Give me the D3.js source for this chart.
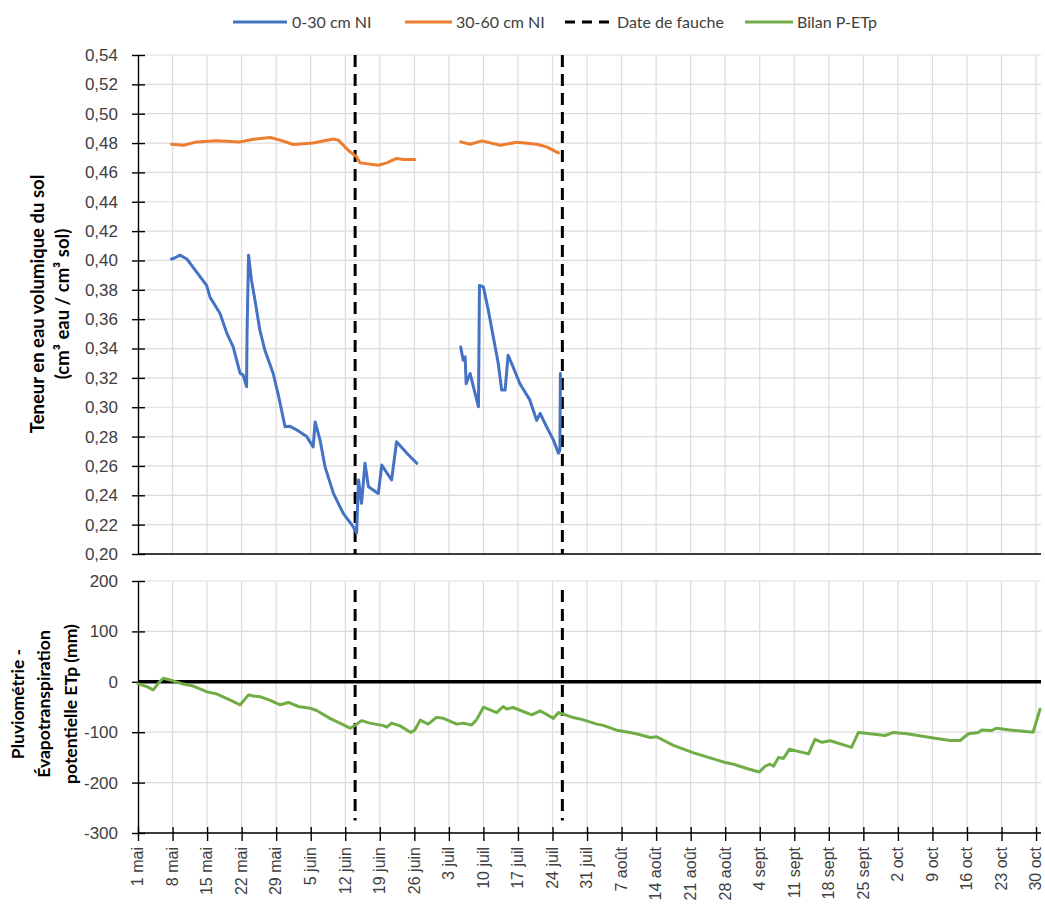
<!DOCTYPE html>
<html>
<head>
<meta charset="utf-8">
<script src="https://cdn.jsdelivr.net/npm/d3@7"></script>
<style>
  body { margin: 0; background: #fff; }
  svg { display: block; font-family: Lato, "Open Sans", sans-serif; }
</style>
</head>
<body>
<svg id="chart" width="1045" height="909"></svg>
<script>
// Season start (1 May); all series positions are given in days since this date.
const seasonStart = Date.UTC(2021, 4, 1);
const seasonLength = 183;

// Weekly axis labels (every 7 days from 1 May)
const tickLabels = ["1 mai","8 mai","15 mai","22 mai","29 mai","5 juin","12 juin","19 juin","26 juin",
  "3 juil","10 juil","17 juil","24 juil","31 juil","7 août","14 août","21 août","28 août",
  "4 sept","11 sept","18 sept","25 sept","2 oct","9 oct","16 oct","23 oct","30 oct"];

// Mowing dates (days since 1 May): 14 June and 26 July
const mowingDays = [44, 86];

// Soil moisture 0-30 cm (cm3/cm3); null marks the logger gap
const shallowDays = [6.8,7.6,8.5,9.9,11.9,13.9,14.6,16.6,18.0,19.3,20.7,21.3,22.0,22.1,22.4,23.0,23.7,24.7,25.7,27.4,28.4,29.8,30.8,32.2,34.2,35.5,35.9,36.9,37.9,39.6,41.6,43.6,44.3,44.7,45.3,46.0,46.7,48.7,49.4,51.4,52.4,54.5,56.5,
  60,
  65.4,65.9,66.3,66.5,67.3,69.0,69.2,70.0,71.0,72.0,73.0,73.7,74.4,75.0,76.0,77.4,79.4,80.8,81.5,82.8,84.2,85.2,85.5,85.6];
const shallowValues = [0.401,0.402,0.4036,0.401,0.392,0.383,0.375,0.364,0.3505,0.341,0.323,0.322,0.314,0.350,0.4036,0.3866,0.373,0.3525,0.339,0.323,0.309,0.2867,0.287,0.2845,0.280,0.273,0.290,0.2776,0.2595,0.2413,0.2277,0.2186,0.2143,0.2504,0.2345,0.2618,0.2458,0.2413,0.2606,0.2504,0.2765,0.2686,0.2618,
  null,
  0.341,0.332,0.3344,0.316,0.323,0.3003,0.383,0.382,0.366,0.348,0.330,0.3117,0.3117,0.3355,0.3276,0.316,0.305,0.291,0.2958,0.2867,0.2776,0.2686,0.2708,0.323];

// Soil moisture 30-60 cm (cm3/cm3)
const deepDays = [6.8,9.2,11.9,15.9,20.7,23.4,26.8,28.8,31.5,35.5,39.6,40.6,42.6,44.3,45.0,48.7,50.4,52.4,53.8,56.1,
  60,
  65.4,67.3,69.7,73.4,76.8,80.8,82.8,85.2];
const deepValues = [0.4792,0.4785,0.4808,0.4815,0.4808,0.4826,0.4838,0.482,0.479,0.480,0.4828,0.482,0.4751,0.4706,0.4665,0.4649,0.4665,0.4695,0.4688,0.4688,
  null,
  0.4808,0.4792,0.4815,0.4785,0.4805,0.4792,0.4774,0.4733];

// Cumulative water balance P - ETp (mm)
const balanceDays = [0,1.8,3.1,4.1,5.1,6.5,9.2,11.2,13.9,15.9,18.6,20.7,22.4,23.4,24.7,26.8,28.8,30.5,32.5,34.9,36.2,38.9,40.9,43.0,43.6,45.3,47.0,49.7,50.4,51.4,53.1,55.3,56.1,57.2,58.8,60.5,61.9,64.6,65.9,67.6,68.6,70.0,72.7,74.0,74.7,76.0,79.8,81.5,84.2,85.2,88.2,89.9,93.0,94.3,97.0,99.7,101.4,103.8,105.1,108.5,112.6,118.6,120.7,123.4,125.9,127.1,128.1,128.8,129.8,130.8,132.0,134.2,135.9,137.2,138.6,140.3,144.6,146.0,148.4,151.4,153.1,155.8,161.2,164.6,166.6,168.3,170.3,171.0,173.0,174.0,176.7,181.4,182.8];
const balanceValues = [-4,-9.5,-16,-3,7,3.6,-4.5,-8.5,-19.6,-24,-36,-45.6,-26,-28,-29.5,-37,-45.6,-41,-49,-52.5,-57,-72.5,-82,-92,-89,-77,-82,-87,-90,-82,-87.5,-100.5,-95.6,-76,-84,-70.6,-72.5,-84,-82,-85.7,-75.6,-50.4,-61,-49,-54,-51,-65.6,-57.5,-72.5,-61,-71,-74.6,-84,-86.5,-96,-100.5,-104,-110.5,-109,-126,-141,-159,-163.5,-172,-179,-167.5,-163.5,-167.5,-150,-152,-134,-139,-143,-114,-120,-117,-130,-100.5,-103,-106.5,-100.5,-103,-111.5,-116.5,-116.5,-103,-100.5,-95.6,-96.6,-92,-95.6,-100,-54.5];

// ---------------------------------------------------------------------------
const dayToDate = d => new Date(seasonStart + d * 864e5);
const locale = d3.formatLocale({ decimal: ",", thousands: " ", grouping: [3], currency: ["", " €"], minus: "-" });
const fmt2 = locale.format(".2f");

const svg = d3.select("#chart");
const colors = { shallow: "#4472C4", deep: "#ED7D31", balance: "#70AD47", grid: "#dcdcdc", text: "#404040" };

const x = d3.scaleUtc()
  .domain([dayToDate(0), dayToDate(seasonLength)])
  .range([138, 1041]);
const yTop = d3.scaleLinear().domain([0.20, 0.54]).range([554, 55]);
const yBot = d3.scaleLinear().domain([-300, 200]).range([833, 581]);

const tickDates = tickLabels.map((_, i) => dayToDate(i * 7));
const topTicks = yTop.ticks(17);
const botTicks = yBot.ticks(5);

// Gridlines
function grid(yScale, ticks) {
  const g = svg.append("g").attr("stroke", colors.grid).attr("stroke-width", 1.2);
  const [y0, y1] = yScale.range();
  g.selectAll(".v").data(tickDates.slice(1)).join("line")
    .attr("x1", d => x(d)).attr("x2", d => x(d))
    .attr("y1", y0).attr("y2", y1);
  g.selectAll(".h").data(ticks).join("line")
    .attr("x1", x.range()[0]).attr("x2", x.range()[1])
    .attr("y1", d => yScale(d)).attr("y2", d => yScale(d));
}
grid(yTop, topTicks);
grid(yBot, botTicks);

// Axes
function styleAxis(g, size) {
  g.select(".domain").attr("stroke", "#000").attr("stroke-width", 1.4);
  g.selectAll(".tick line").attr("stroke", "#000").attr("stroke-width", 1.4);
  g.selectAll(".tick text").attr("fill", colors.text).attr("font-size", size);
}

const axTop = svg.append("g").attr("transform", `translate(${x.range()[0]},0)`)
  .call(d3.axisLeft(yTop).tickValues(topTicks).tickFormat(fmt2).tickSizeInner(6).tickSizeOuter(0).tickPadding(14));
styleAxis(axTop, 17);
axTop.selectAll(".tick line").attr("x2", -6).attr("x1", 7);

// Bottom edge of the upper panel (no ticks)
svg.append("line")
  .attr("x1", x.range()[0]).attr("x2", x.range()[1])
  .attr("y1", yTop(0.20)).attr("y2", yTop(0.20))
  .attr("stroke", "#000").attr("stroke-width", 1.4);

const axBot = svg.append("g").attr("transform", `translate(${x.range()[0]},0)`)
  .call(d3.axisLeft(yBot).tickValues(botTicks).tickFormat(d => d).tickSizeInner(6).tickSizeOuter(0).tickPadding(14));
styleAxis(axBot, 17);
axBot.selectAll(".tick line").attr("x2", -6).attr("x1", 7);

const axX = svg.append("g").attr("transform", `translate(0,${yBot(-300)})`)
  .call(d3.axisBottom(x).tickValues(tickDates).tickFormat((d, i) => tickLabels[i]).tickSizeInner(8).tickSizeOuter(0));
styleAxis(axX, 16);
axX.select(".domain").attr("d", `M${x.range()[0]},0H${x.range()[1]}`);
axX.selectAll(".tick line").attr("y1", -6).attr("y2", 8);
axX.selectAll(".tick text")
  .attr("y", 0).attr("dy", "0.3em").attr("x", 0)
  .attr("transform", "translate(0,14) rotate(-90)")
  .attr("text-anchor", "end");

// Zero line of the water balance
svg.append("line")
  .attr("x1", x.range()[0]).attr("x2", x.range()[1])
  .attr("y1", yBot(0)).attr("y2", yBot(0))
  .attr("stroke", "#000").attr("stroke-width", 3.6);

// Mowing dates
const dash = "12,7";
const mowG = svg.append("g").attr("stroke", "#000").attr("stroke-width", 3).attr("stroke-dasharray", dash);
mowG.selectAll(".mt").data(mowingDays).join("line")
  .attr("x1", d => x(dayToDate(d))).attr("x2", d => x(dayToDate(d)))
  .attr("y1", yTop(0.54)).attr("y2", yTop(0.20));
mowG.selectAll(".mb").data(mowingDays).join("line")
  .attr("x1", d => x(dayToDate(d))).attr("x2", d => x(dayToDate(d)))
  .attr("y1", yBot(182)).attr("y2", yBot(-275));

// Series
function series(days, values, yScale, color) {
  const pts = days.map((d, i) => [d, values[i]]);
  const line = d3.line()
    .defined(p => p[1] !== null)
    .x(p => x(dayToDate(p[0])))
    .y(p => yScale(p[1]));
  svg.append("path").datum(pts)
    .attr("fill", "none").attr("stroke", color).attr("stroke-width", 3)
    .attr("stroke-linejoin", "round").attr("stroke-linecap", "round")
    .attr("d", line);
}
series(deepDays, deepValues, yTop, colors.deep);
series(shallowDays, shallowValues, yTop, colors.shallow);
series(balanceDays, balanceValues, yBot, colors.balance);

// Legend
const legendItems = [
  { label: "0-30 cm NI", color: colors.shallow, x0: 233, x1: 287, tx: 292 },
  { label: "30-60 cm NI", color: colors.deep, x0: 405, x1: 452, tx: 456 },
  { label: "Date de fauche", color: "#000", x0: 565, x1: 611, tx: 617, dashed: true },
  { label: "Bilan P-ETp", color: colors.balance, x0: 745, x1: 793, tx: 797 }
];
const lg = svg.append("g");
legendItems.forEach(it => {
  lg.append("line").attr("x1", it.x0).attr("x2", it.x1).attr("y1", 22).attr("y2", 22)
    .attr("stroke", it.color).attr("stroke-width", it.dashed ? 3 : 2.8)
    .attr("stroke-dasharray", it.dashed ? "10,7" : null);
  lg.append("text").attr("x", it.tx).attr("y", 22).attr("dy", "0.35em")
    .attr("font-size", 16).attr("fill", colors.text).text(it.label);
});

// Axis titles
function title(lines, xs, cy, size) {
  lines.forEach((t, i) => {
    svg.append("text")
      .attr("transform", `translate(${xs[i]},${cy}) rotate(-90)`)
      .attr("text-anchor", "middle").attr("dy", "0.35em")
      .attr("font-size", size).attr("font-weight", "bold").attr("fill", "#000")
      .text(t);
  });
}
title(["Teneur en eau volumique du sol", "(cm³ eau / cm³ sol)"], [38, 63], 304, 18.5);
title(["Pluviométrie -", "Évapotranspiration", "potentielle ETp (mm)"], [18, 44, 71], 704, 17.5);
</script>
</body>
</html>
